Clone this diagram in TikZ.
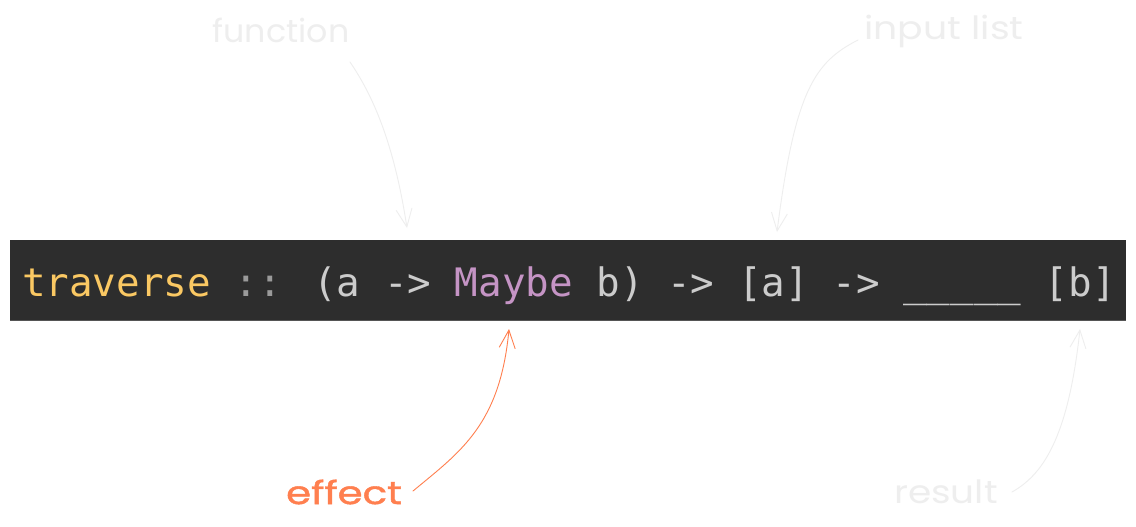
\documentclass[tikz,border=0pt]{standalone}
\usepackage{fontspec}
\usetikzlibrary{arrows.meta}
\newfontfamily\codefont{DejaVu Sans Mono}
\newfontfamily\handfont{Poppins}
\newfontfamily\handfontbold{Poppins}[FakeBold=1.2]
\definecolor{barbg}{HTML}{2D2D2D}
\definecolor{barline}{HTML}{555555}
\definecolor{kwyellow}{HTML}{FAC863}
\definecolor{kwpurple}{HTML}{C594C5}
\definecolor{codegray}{HTML}{CCCCCC}
\definecolor{dimgray}{HTML}{9A9A9A}
\definecolor{faint}{HTML}{EEEEEE}
\definecolor{effectorange}{HTML}{FF7F4F}
\tikzset{
  lbl/.style={inner sep=0pt, font=\handfont\fontsize{32}{34}\selectfont},
  faintlbl/.style={lbl, text=faint},
  hand/.style={line width=0.9pt, line cap=round, -{Straight Barb[length=18pt,width=16pt,line width=0.9pt]}},
}
\begin{document}
\begin{tikzpicture}[x=1pt,y=-1pt]
\useasboundingbox (0,0) rectangle (1136,527);
\fill[white] (0,0) rectangle (1136,527);
% code bar
\fill[barbg] (10,240) rectangle (1126,321);
\draw[barline, line width=1.2pt] (10,320.4) -- (1126,320.4);
\node[anchor=base west, inner sep=0pt, font=\codefont\fontsize{39.2}{41}\selectfont, text=codegray] (code) at (22,296)
  {\textcolor{kwyellow}{traverse} \textcolor{dimgray}{::} (a -> \textcolor{kwpurple}{Maybe} b) -> [a] -> \_\_\_\_\_ [b]};
% anchor points on the bar
\coordinate (tFunc) at (407,228);
\coordinate (tList) at (777,232);
\coordinate (tEff) at (509,329);
\coordinate (tRes) at (1080,329);
% labels
\node[faintlbl] (function) at (281,30) {\scalebox{1.04}[1]{function}};
\node[faintlbl] (input) at (944,31) {\scalebox{1.18}[1]{input list}};
\node[lbl, font=\handfontbold\fontsize{32}{34}\selectfont, text=effectorange] (effect) at (344,492) {\scalebox{1.26}[1]{effect}};
\node[faintlbl] (result) at (946,492) {\scalebox{1.17}[1]{result}};
% arrows
\draw[hand, draw=faint] (350,62) .. controls (376,100) and (395,150) .. (tFunc);
\draw[hand, draw=faint] (858,40) .. controls (815,62) and (795,90) .. (tList);
\draw[hand, draw=effectorange] (413,491) .. controls (460,452) and (500,425) .. (tEff);
\draw[hand, draw=faint] (1012,492) .. controls (1042,475) and (1068,440) .. (tRes);
\end{tikzpicture}
\end{document}
